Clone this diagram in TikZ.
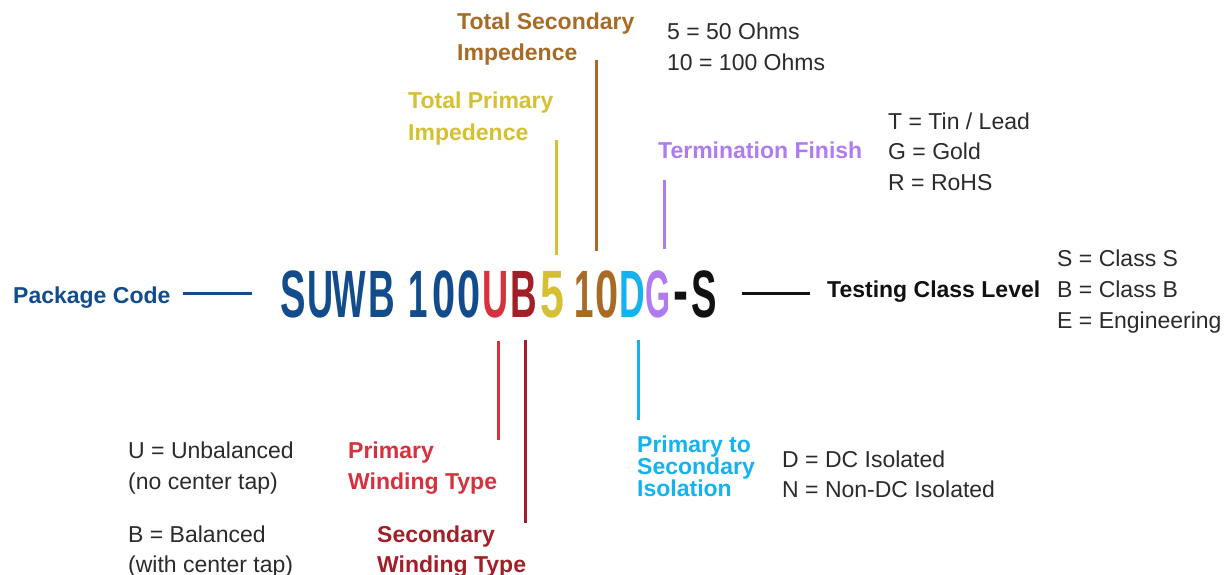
\documentclass[tikz,border=0pt]{standalone}
\usepackage{fontspec}
\setmainfont{Liberation Sans}
\usepackage{graphicx}
\definecolor{cblue}{HTML}{134C8C}
\definecolor{cred}{HTML}{D6313D}
\definecolor{cdred}{HTML}{A11F27}
\definecolor{cyellow}{HTML}{D5C034}
\definecolor{cbrown}{HTML}{A86B25}
\definecolor{ccyan}{HTML}{15B3EE}
\definecolor{cpurple}{HTML}{B07BF1}
\definecolor{cblack}{HTML}{111111}
\definecolor{cgray}{HTML}{2B2B2B}
\newcommand{\cglyph}[2]{\scalebox{#1}[1]{#2}}
\begin{document}
\begin{tikzpicture}[x=1pt,y=-1pt,
  lbl/.style={inner sep=0pt, anchor=base west, font=\fontsize{23}{31}\selectfont},
  blbl/.style={inner sep=0pt, anchor=base west, font=\fontsize{23}{31}\selectfont\bfseries},
  txt/.style={lbl, text=cgray},
  glyph/.style={inner sep=0pt, anchor=base, font=\fontsize{67}{67}\selectfont\bfseries},
  conn/.style={line width=3pt}]
\useasboundingbox (0,0) rectangle (1225,575);
\fill[white] (0,0) rectangle (1225,575);

% ---- part number glyphs ----
\node[glyph,text=cblue]   (g1)  at (293.5,317) {\cglyph{.57}{S}};
\node[glyph,text=cblue]   (g2)  at (320.5,317) {\cglyph{.54}{U}};
\node[glyph,text=cblue]   (g3)  at (349.5,317) {\cglyph{.53}{W}};
\node[glyph,text=cblue]   (g4)  at (382,317)   {\cglyph{.55}{B}};
\node[glyph,text=cblue]   (g5)  at (418,317)   {\cglyph{.52}{1}};
\node[glyph,text=cblue]   (g6)  at (444,317)   {\cglyph{.62}{0}};
\node[glyph,text=cblue]   (g7)  at (469,317)   {\cglyph{.62}{0}};
\node[glyph,text=cred]    (g8)  at (496,317)   {\cglyph{.54}{U}};
\node[glyph,text=cdred]   (g9)  at (523.5,317) {\cglyph{.55}{B}};
\node[glyph,text=cyellow] (g10) at (552,317)   {\cglyph{.64}{5}};
\node[glyph,text=cbrown]  (g11) at (584,317)   {\cglyph{.52}{1}};
\node[glyph,text=cbrown]  (g12) at (607.5,317) {\cglyph{.62}{0}};
\node[glyph,text=ccyan]   (g13) at (632.5,317) {\cglyph{.53}{D}};
\node[glyph,text=cpurple] (g14) at (657.5,317) {\cglyph{.48}{G}};
\node[glyph,text=cblack]  (g15) at (681,313)   {\cglyph{.67}{-}};
\node[glyph,text=cblack]  (g16) at (704,317)   {\cglyph{.57}{S}};

% ---- labels ----
\node[blbl,text=cblue] (pkg) at (13,303) {Package Code};
\node[blbl,text=cblack] (tcl) at (827,297) {Testing Class Level};
\node[txt] (cs) at (1057,266) {S = Class S};
\node[txt] (cb) at (1057,297) {B = Class B};
\node[txt] (ce) at (1057,328) {E = Engineering};

\node[blbl,text=cbrown] (tsec1) at (457,30) {Total Secondary};
\node[blbl,text=cbrown] (tsec2) at (457,61) {Impedence};
\node[txt] (o5)  at (667,40) {5 = 50 Ohms};
\node[txt] (o10) at (667,71) {10 = 100 Ohms};

\node[blbl,text=cyellow] (tpri1) at (408,109) {Total Primary};
\node[blbl,text=cyellow] (tpri2) at (408,140) {Impedence};

\node[blbl,text=cpurple] (term) at (658,158) {Termination Finish};
\node[txt] (ft) at (888,129) {T = Tin / Lead};
\node[txt] (fg) at (888,159) {G = Gold};
\node[txt] (fr) at (888,190) {R = RoHS};

\node[blbl,text=cred] (pw1) at (348,458) {Primary};
\node[blbl,text=cred] (pw2) at (348,489) {Winding Type};
\node[blbl,text=cdred] (sw1) at (377,542) {Secondary};
\node[blbl,text=cdred] (sw2) at (377,572) {Winding Type};
\node[txt] (wu1) at (128,458) {U = Unbalanced};
\node[txt] (wu2) at (128,489) {(no center tap)};
\node[txt] (wb1) at (128,542) {B = Balanced};
\node[txt] (wb2) at (128,572) {(with center tap)};

\node[blbl,text=ccyan] (is1) at (637,452) {Primary to};
\node[blbl,text=ccyan] (is2) at (637,474) {Secondary};
\node[blbl,text=ccyan] (is3) at (637,496) {Isolation};
\node[txt] (id) at (782,467) {D = DC Isolated};
\node[txt] (in) at (782,497) {N = Non-DC Isolated};

% ---- connectors ----
\coordinate (brtop) at (596,60);
\coordinate (yltop) at (556,140);
\coordinate (pptop) at (664,180);
\coordinate (rdbot) at (498,440);
\coordinate (drbot) at (525,523);
\coordinate (cybot) at (638,420);

\draw[conn,cblue] (pkg.east |- g1.west) -- (g1.west) [shorten <=12pt, shorten >=29pt];
\draw[conn,cblack] (g16.east) -- (tcl.west |- g16.east) [shorten <=25pt, shorten >=17pt];
\draw[conn,cbrown] (brtop) -- (brtop |- g12.north) [shorten >=19pt];
\draw[conn,cyellow] (yltop) -- (yltop |- g10.north) [shorten >=16pt];
\draw[conn,cpurple] (pptop) -- (pptop |- g14.north) [shorten >=21pt];
\draw[conn,cred] (rdbot |- g8.south) -- (rdbot) [shorten <=23pt];
\draw[conn,cdred] (drbot |- g9.south) -- (drbot) [shorten <=23pt];
\draw[conn,ccyan] (cybot |- g13.south) -- (cybot) [shorten <=23pt];
\end{tikzpicture}
\end{document}
